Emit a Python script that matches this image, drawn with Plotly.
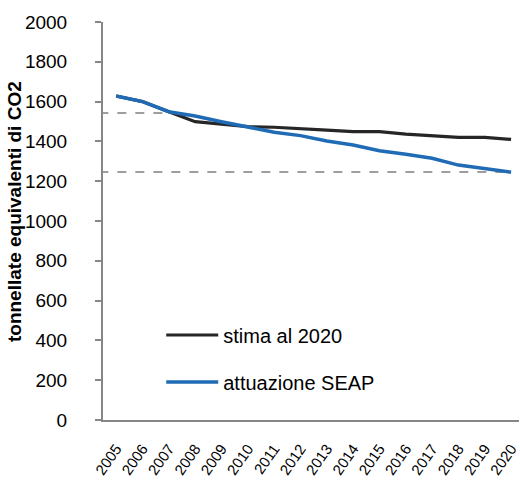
import plotly.graph_objects as go

# Years on the category axis
years = [str(y) for y in range(2005, 2021)]

# Emissions, tonnes of CO2 equivalent
stima_2020 = [1628, 1600, 1549, 1499, 1487, 1474, 1471, 1466,
              1457, 1449, 1449, 1437, 1429, 1420, 1420, 1410]
attuazione_seap = [1628, 1600, 1549, 1528, 1499, 1474, 1446, 1429,
                   1402, 1382, 1353, 1335, 1315, 1281, 1261, 1245]

# Reference levels drawn as dashed guides (value, last category reached)
guide_levels = [1543, 1246]
guide_end_years = ["2007", "2020"]

FONT = "Liberation Sans, Arial, sans-serif"
GRAY = "#868686"

fig = go.Figure()
fig.add_trace(go.Scatter(
    x=years, y=stima_2020, mode="lines", name="stima al 2020",
    line=dict(color="#262626", width=3.2), legendgroup="a",
))
fig.add_trace(go.Scatter(
    x=years, y=attuazione_seap, mode="lines", name="attuazione SEAP",
    line=dict(color="#1f6bb5", width=3.5), legendgroup="b",
))

for level, end in zip(guide_levels, guide_end_years):
    end_idx = years.index(end)
    fig.add_shape(
        type="line", xref="x", yref="y",
        x0=-0.64, x1=min(end_idx, 15.3), y0=level, y1=level,
        line=dict(color="#7f7f7f", width=1.5, dash="dash"),
        layer="below",
    )

# Rotated y-axis title
fig.add_annotation(
    text="<b>tonnellate equivalenti di CO2</b>",
    xref="paper", yref="paper", x=-0.214, y=0.525,
    xanchor="center", yanchor="middle", textangle=-90,
    showarrow=False, font=dict(size=19, family=FONT, color="#000000"),
)

fig.update_layout(
    width=520, height=484,
    margin=dict(l=103, r=1, t=22, b=64),
    paper_bgcolor="white", plot_bgcolor="white",
    font=dict(family=FONT, color="#000000", size=20),
    showlegend=True,
    legend=dict(
        x=0.14, y=0.2625, xanchor="left", yanchor="top",
        bgcolor="rgba(0,0,0,0)", font=dict(size=20),
        itemwidth=52, tracegroupgap=18, traceorder="grouped",
    ),
    xaxis=dict(
        type="category", range=[-0.5, 15.3], automargin=False,
        showgrid=False, zeroline=False,
        showline=True, linecolor=GRAY, linewidth=2,
        ticks="", tickangle=-55,
        tickfont=dict(size=15, family=FONT, color="#000000"),
        ticklabelstandoff=12,
    ),
    yaxis=dict(
        range=[0, 2000], tickvals=list(range(0, 2001, 200)),
        automargin=False,
        showgrid=False, zeroline=False,
        showline=True, linecolor=GRAY, linewidth=2,
        ticks="outside", ticklen=6, tickcolor=GRAY, tickwidth=1.5,
        tickfont=dict(size=19, family=FONT, color="#000000"),
        ticklabelstandoff=24,
    ),
)

fig.write_html("out.html")
